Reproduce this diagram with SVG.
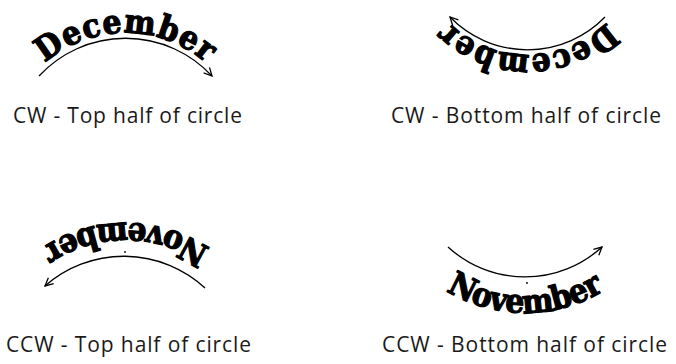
<svg xmlns="http://www.w3.org/2000/svg" width="676" height="364" viewBox="0 0 676 364">
  <style>
    .arc { fill: none; stroke: #000; stroke-width: 1.3; }
    .word { font-family: "DejaVu Serif Condensed", "DejaVu Serif", "Liberation Serif", serif; font-stretch: condensed; font-weight: bold; font-size: 33px; fill: #000; stroke: #000; stroke-width: 1.2; stroke-linejoin: round; }
    .label { font-family: "Open Sans", "Noto Sans", sans-serif; font-size: 21px; fill: #1a1a1a; }
  </style>
  <defs>
    <marker id="arrow" viewBox="0 0 10 10" refX="9" refY="5" markerWidth="10" markerHeight="10" markerUnits="userSpaceOnUse" orient="auto">
      <path d="M1,1 L9,5 L1,9" fill="none" stroke="#000" stroke-width="1.3"/>
    </marker>
    <path id="p1" d="M45 63 A123 123 0 0 1 206 63"/>
    <path id="p2" d="M606.7 22.1 A113 113 0 0 1 448.3 22.1"/>
    <path id="p3" d="M209.9 248.4 A153 153 0 0 0 41.1 248.4"/>
    <path id="p4" d="M446.1 290.7 A151 151 0 0 0 603.9 290.7"/>
  </defs>
  <rect width="676" height="364" fill="#fff"/>

  <g id="connectors">
    <path class="arc" d="M39 76 A118 118 0 0 1 212 76" marker-end="url(#arrow)"/>
    <path class="arc" d="M605 17 A108 108 0 0 1 450 17" marker-end="url(#arrow)"/>
    <path class="arc" d="M205 288 A119.5 119.5 0 0 0 45 286" marker-end="url(#arrow)"/>
    <path class="arc" d="M448 247 A114 114 0 0 0 602 247" marker-end="url(#arrow)"/>
  </g>

  <g id="cw-top">
    <text class="word"><textPath href="#p1" textLength="175" lengthAdjust="spacing">December</textPath></text>
    <text class="label" x="13" y="123" textLength="229" lengthAdjust="spacing">CW - Top half of circle</text>
  </g>

  <g id="cw-bottom">
    <text class="word"><textPath href="#p2" textLength="175" lengthAdjust="spacing">December</textPath></text>
    <text class="label" x="391" y="123" textLength="270" lengthAdjust="spacing">CW - Bottom half of circle</text>
  </g>

  <g id="ccw-top">
    <text class="word"><textPath href="#p3" textLength="178" lengthAdjust="spacing">November</textPath></text>
    <circle cx="125" cy="252" r="0.9" fill="#000"/>
    <text class="label" x="6" y="352" textLength="245" lengthAdjust="spacing">CCW - Top half of circle</text>
  </g>

  <g id="ccw-bottom">
    <text class="word"><textPath href="#p4" textLength="166" lengthAdjust="spacing">November</textPath></text>
    <circle cx="527" cy="283" r="0.9" fill="#000"/>
    <text class="label" x="382" y="352" textLength="285" lengthAdjust="spacing">CCW - Bottom half of circle</text>
  </g>
</svg>
